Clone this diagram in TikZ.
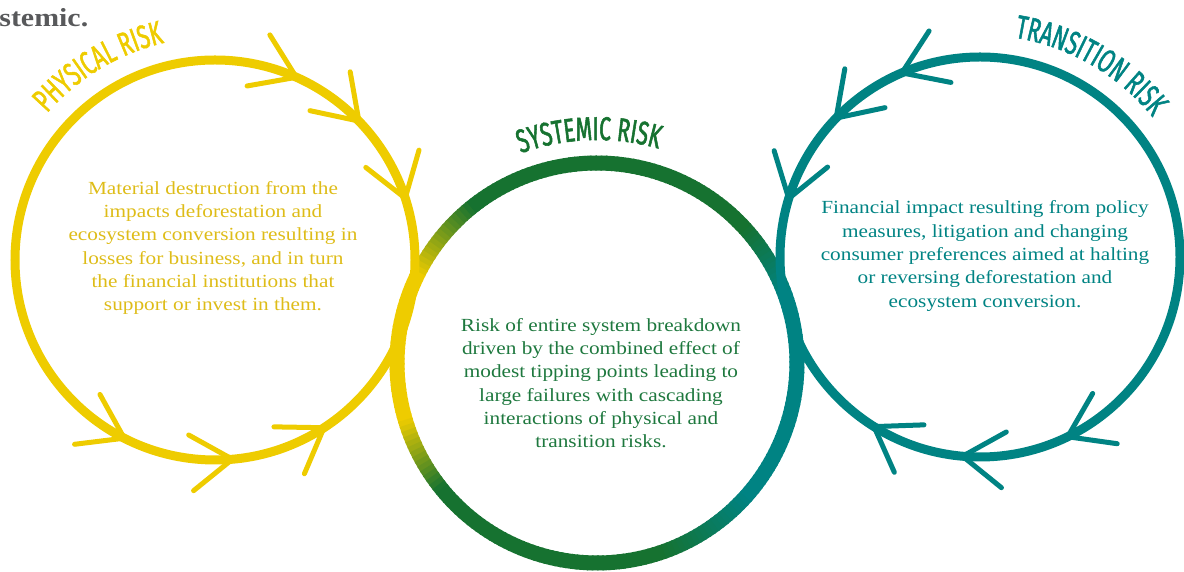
\documentclass[tikz,border=0pt]{standalone}
\usepackage{fontspec}
\setmainfont{Liberation Serif}[FakeStretch=1.15]
\newfontfamily\titlefont[FakeStretch=0.64, FakeBold=1.6]{Fira Sans}
\usepackage{tikz}
\usetikzlibrary{calc}
\usetikzlibrary{decorations.text}

\definecolor{physy}{RGB}{238,204,0}
\definecolor{physytext}{RGB}{222,188,24}
\definecolor{sysgreen}{RGB}{22,114,48}
\definecolor{sysgreentext}{RGB}{30,120,62}
\definecolor{transteal}{RGB}{0,131,131}
\definecolor{captiongray}{RGB}{88,89,91}

% chevron on a circle: centre, angle of tip, heading, colour
\newcommand{\riskarrow}[4]{%
    \draw[arrowarm, #4] ([shift={(#2:200)}]#1) ++(#3+146:50) -- ++(#3-34:50) -- ++(#3-146:50);
}

\begin{document}
\begin{tikzpicture}[x=0.5pt, y=0.5pt,
    ring/.style={line width=7.5pt},
    riskcircle/.style={line width=4.5pt},
    arrowarm/.style={line width=2.5pt, line cap=round, line join=round},
    desc/.style={align=center, font=\fontsize{9.25}{11.65}\selectfont},
    titlefmt/.style={decorate, decoration={text along path, text align=center, text={#1}}}]
    \useasboundingbox (0,0) rectangle (1184,572);

    % Centres
    \coordinate (phys) at (215,312);
    \coordinate (sys) at (597,209);
    \coordinate (trans) at (980,315);

    % Systemic ring, coloured by angle
    \foreach \a in {0,1.5,...,358.5} {
        \pgfmathtruncatemacro\yp{max(0,min(100,min((\a-128)*4,(218-\a)*4.5)))}
        \pgfmathsetmacro\tang{\a>180 ? \a-360 : \a}
        \pgfmathtruncatemacro\tp{max(0,min(100,min((42-\tang)*4.5,(\tang+72)*10/3)))}
        \pgfmathtruncatemacro\gy{100-\yp}
        \pgfmathtruncatemacro\gt{100-\tp}
        \draw[ring, color=sysgreen!\gy!physy!\gt!transteal] ([shift={(\a:200)}]sys) arc[start angle=\a, end angle=\a+2, radius=200];
    }

    % Physical and transition loops
    \draw[riskcircle, physy] (phys) circle[radius=200];
    \draw[riskcircle, transteal] (trans) circle[radius=200];

    % Arrows on physical loop
    \riskarrow{phys}{66}{-24}{physy}
    \riskarrow{phys}{44}{-46}{physy}
    \riskarrow{phys}{18}{-72}{physy}
    \riskarrow{phys}{243}{333}{physy}
    \riskarrow{phys}{275}{5}{physy}
    \riskarrow{phys}{303}{33}{physy}

    % Arrows on transition loop
    \riskarrow{trans}{113}{203}{transteal}
    \riskarrow{trans}{136}{226}{transteal}
    \riskarrow{trans}{163}{253}{transteal}
    \riskarrow{trans}{238}{148}{transteal}
    \riskarrow{trans}{265}{175}{transteal}
    \riskarrow{trans}{296}{206}{transteal}

    % Titles
    \path[titlefmt={|\titlefont\fontsize{16.5}{16.5}\selectfont\color{physy}|PHYSICAL RISK}] ([shift={(161:223)}]phys) arc[start angle=161, end angle=81, radius=223];
    \path[titlefmt={|\titlefont\fontsize{16.5}{16.5}\selectfont\color{sysgreen}|SYSTEMIC RISK}] ([shift={(132:223)}]sys) arc[start angle=132, end angle=52, radius=223];
    \path[titlefmt={|\titlefont\fontsize{16.5}{16.5}\selectfont\color{transteal}|TRANSITION RISK}] ([shift={(105:222)}]trans) arc[start angle=105, end angle=15, radius=222];

    % Descriptions
    \node (physdesc) [desc, text=physytext] at (213,324) {Material destruction from the\\impacts deforestation and\\ecosystem conversion resulting in\\losses for business, and in turn\\the financial institutions that\\support or invest in them.};
    \node (sysdesc) [desc, text=sysgreentext] at (601,189) {Risk of entire system breakdown\\driven by the combined effect of\\modest tipping points leading to\\large failures with cascading\\interactions of physical and\\transition risks.};
    \node (transdesc) [desc, text=transteal] at (985,316) {Financial impact resulting from policy\\measures, litigation and changing\\consumer preferences aimed at halting\\or reversing deforestation and\\ecosystem conversion.};

    % Cut caption line
    \node (caption) [anchor=base west, inner sep=0pt, text=captiongray, font=\bfseries\fontsize{13}{13}\selectfont] at (-1,545) {stemic.};
\end{tikzpicture}
\end{document}
